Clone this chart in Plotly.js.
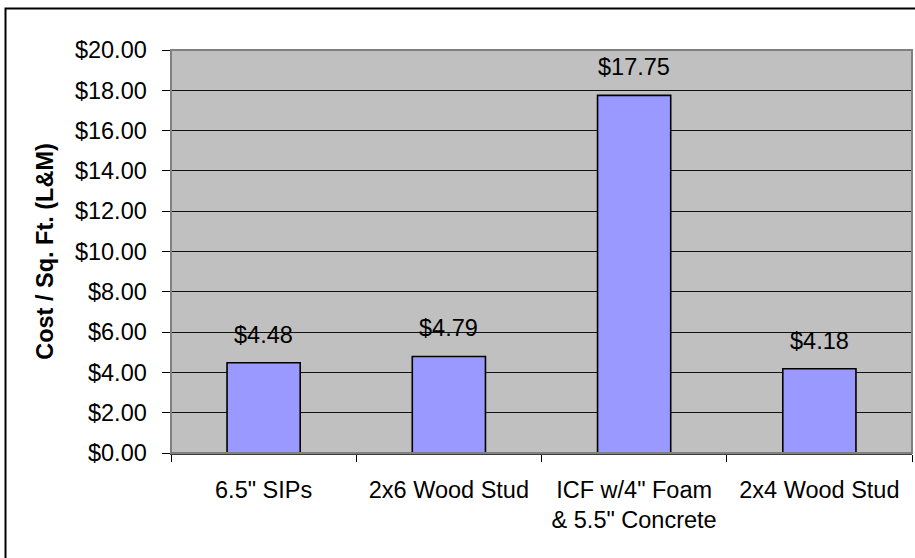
<!DOCTYPE html>
<html>
<head>
<meta charset="utf-8">
<script src="https://cdn.plot.ly/plotly-3.0.1.min.js"></script>
<style>
  html, body { margin: 0; padding: 0; background: #ffffff; }
  #chart { width: 915px; height: 558px; }
</style>
</head>
<body>
<div id="chart"></div>
<script>
const categories = ['6.5" SIPs', '2x6 Wood Stud', 'ICF w/4" Foam<br>& 5.5" Concrete', '2x4 Wood Stud'];
const costs = [4.48, 4.79, 17.75, 4.18];
const yTickValues = [0, 2, 4, 6, 8, 10, 12, 14, 16, 18, 20];
const yTitle = 'Cost / Sq. Ft. (L&M)';

const W = 915, H = 558;
const M = { l: 171, r: 3, t: 50, b: 105 };
const pw = W - M.l - M.r, ph = H - M.t - M.b;
const px2x = p => (p - M.l) / pw;
const py2y = p => (H - M.b - p) / ph;

const font = 'Arial, "Liberation Sans", sans-serif';
const fs = 23.5;

const trace = {
  type: 'bar',
  x: categories,
  y: costs,
  marker: { color: '#9999FF', line: { color: '#000000', width: 1.6 } },
  hoverinfo: 'skip'
};

const annotations = categories.map((c, i) => ({
  x: c, y: costs[i], xref: 'x', yref: 'y',
  text: '$' + costs[i].toFixed(2),
  showarrow: false, yshift: 28,
  font: { family: font, size: fs, color: '#000000' }
}));

const layout = {
  width: W, height: H,
  margin: M,
  paper_bgcolor: '#ffffff',
  plot_bgcolor: '#C0C0C0',
  bargap: 0.605,
  showlegend: false,
  font: { family: font, size: fs, color: '#000000' },
  xaxis: {
    type: 'category',
    tickson: 'boundaries',
    ticks: 'outside', ticklen: 7, tickcolor: '#000000', tickwidth: 1,
    showline: true, linecolor: '#404040', linewidth: 1.5,
    showgrid: false,
    ticklabelstandoff: 15,
    tickfont: { family: font, size: fs, color: '#000000' },
    fixedrange: true
  },
  yaxis: {
    range: [0, 20],
    tickvals: yTickValues,
    ticktext: yTickValues.map(v => '$' + v.toFixed(2)),
    ticks: 'outside', ticklen: 8, tickcolor: '#000000', tickwidth: 1,
    showline: true, linecolor: '#404040', linewidth: 1.5,
    showgrid: true, gridcolor: '#111111', gridwidth: 1,
    zeroline: false,
    ticklabelstandoff: 10,
    tickfont: { family: font, size: fs, color: '#000000' },
    title: { text: '<b>' + yTitle.replace('&', '&amp;') + '</b>', font: { family: font, size: fs, color: '#000000' }, standoff: 14 },
    fixedrange: true
  },
  annotations: annotations,
  shapes: [
    { type: 'rect', xref: 'paper', yref: 'paper', x0: 0, x1: 1, y0: 0, y1: 1,
      line: { color: '#808080', width: 2 }, fillcolor: 'rgba(0,0,0,0)', layer: 'above' },
    { type: 'rect', xref: 'paper', yref: 'paper',
      x0: px2x(5.5), x1: px2x(925), y0: py2y(570), y1: py2y(8.5),
      line: { color: '#000000', width: 2 }, fillcolor: 'rgba(0,0,0,0)', layer: 'above' }
  ]
};

Plotly.newPlot('chart', [trace], layout, { displayModeBar: false, staticPlot: true });
</script>
</body>
</html>
